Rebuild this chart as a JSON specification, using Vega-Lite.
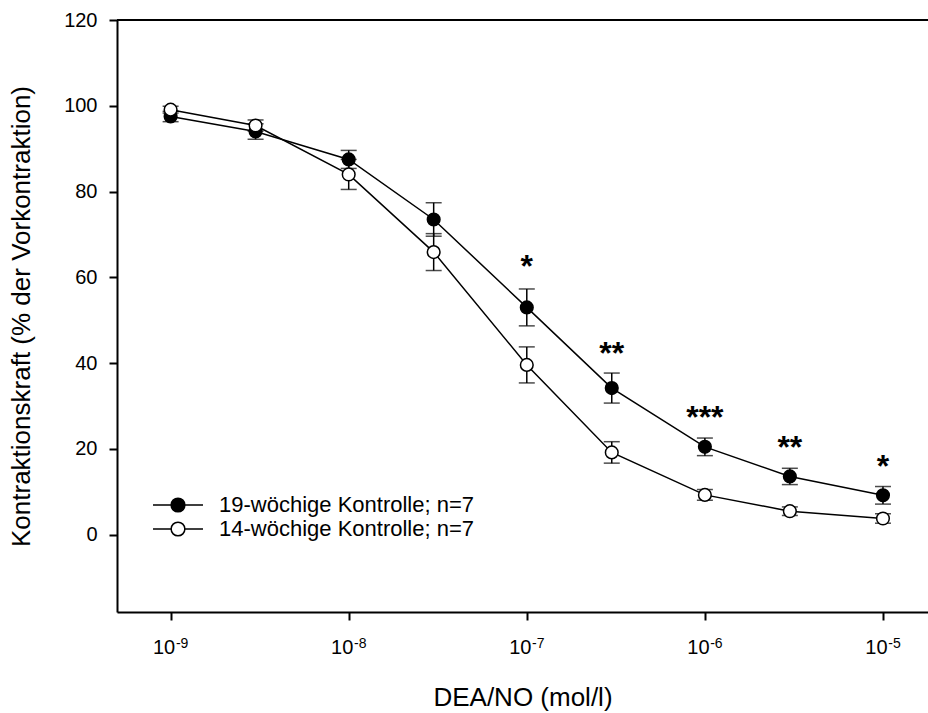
{
  "$schema": "https://vega.github.io/schema/vega-lite/v6.json",
  "width": 811,
  "height": 592,
  "autosize": {"type": "none"},
  "padding": {"left": 117, "top": 20, "right": 0, "bottom": 101},
  "background": "white",
  "config": {
    "view": {"stroke": null},
    "font": "Liberation Sans",
    "axis": {
      "domainColor": "black", "domainWidth": 2,
      "tickColor": "black", "tickWidth": 2, "tickSize": 8,
      "labelColor": "black", "labelFont": "Liberation Sans", "labelFontSize": 20,
      "titleFont": "Liberation Sans", "titleFontSize": 26, "titleFontWeight": "normal", "titleColor": "black",
      "grid": false
    }
  },
  "data": {
    "values": [
      {"conc": 1e-9, "group": "19-wöchige Kontrolle; n=7", "mean": 97.5, "lo": 96.3, "hi": 98.7},
      {"conc": 3e-9, "group": "19-wöchige Kontrolle; n=7", "mean": 94.0, "lo": 92.2, "hi": 95.8},
      {"conc": 1e-8, "group": "19-wöchige Kontrolle; n=7", "mean": 87.5, "lo": 85.4, "hi": 89.6},
      {"conc": 3e-8, "group": "19-wöchige Kontrolle; n=7", "mean": 73.5, "lo": 69.6, "hi": 77.4},
      {"conc": 1e-7, "group": "19-wöchige Kontrolle; n=7", "mean": 53.0, "lo": 48.7, "hi": 57.3},
      {"conc": 3e-7, "group": "19-wöchige Kontrolle; n=7", "mean": 34.2, "lo": 30.7, "hi": 37.7},
      {"conc": 1e-6, "group": "19-wöchige Kontrolle; n=7", "mean": 20.5, "lo": 18.45, "hi": 22.55},
      {"conc": 3e-6, "group": "19-wöchige Kontrolle; n=7", "mean": 13.6, "lo": 11.7, "hi": 15.5},
      {"conc": 1e-5, "group": "19-wöchige Kontrolle; n=7", "mean": 9.2, "lo": 7.15, "hi": 11.25},
      {"conc": 1e-9, "group": "14-wöchige Kontrolle; n=7", "mean": 99.1, "lo": 98.3, "hi": 99.9},
      {"conc": 3e-9, "group": "14-wöchige Kontrolle; n=7", "mean": 95.4, "lo": 94.1, "hi": 96.7},
      {"conc": 1e-8, "group": "14-wöchige Kontrolle; n=7", "mean": 84.0, "lo": 80.5, "hi": 87.5},
      {"conc": 3e-8, "group": "14-wöchige Kontrolle; n=7", "mean": 65.9, "lo": 61.6, "hi": 70.2},
      {"conc": 1e-7, "group": "14-wöchige Kontrolle; n=7", "mean": 39.6, "lo": 35.4, "hi": 43.8},
      {"conc": 3e-7, "group": "14-wöchige Kontrolle; n=7", "mean": 19.2, "lo": 16.7, "hi": 21.7},
      {"conc": 1e-6, "group": "14-wöchige Kontrolle; n=7", "mean": 9.3, "lo": 8.05, "hi": 10.55},
      {"conc": 3e-6, "group": "14-wöchige Kontrolle; n=7", "mean": 5.5, "lo": 4.5, "hi": 6.5},
      {"conc": 1e-5, "group": "14-wöchige Kontrolle; n=7", "mean": 3.8, "lo": 2.7, "hi": 4.9}
    ]
  },
  "resolve": {"axis": {"x": "independent"}},
  "layer": [
    {
      "mark": {"type": "rule", "color": "black", "strokeWidth": 1},
      "encoding": {
        "y": {"datum": 120, "type": "quantitative", "scale": {"domain": [-18, 120], "nice": false, "zero": false}, "title": "Kontraktionskraft (% der Vorkontraktion)"}
      }
    },
    {
      "mark": {"type": "line", "color": "black", "strokeWidth": 1.5},
      "encoding": {
        "x": {
          "field": "conc", "type": "quantitative",
          "scale": {"type": "log", "domain": [5e-10, 1.79e-5], "nice": false},
          "axis": {
            "orient": "bottom",
            "values": [1e-9, 1e-8, 1e-7, 1e-6, 1e-5],
            "labelExpr": "'10'",
            "labelFontSize": 20,
            "labelOffset": -7,
            "labelPadding": 17, "labelFlush": false, "labelOverlap": false,
            "titlePadding": 27
          },
          "title": "DEA/NO (mol/l)"
        },
        "y": {"field": "mean", "type": "quantitative", "scale": {"domain": [-18, 120], "nice": false, "zero": false},
              "axis": {"values": [0, 20, 40, 60, 80, 100, 120], "labelFontSize": 20, "labelPadding": 12, "titlePadding": 29},
              "title": "Kontraktionskraft (% der Vorkontraktion)"},
        "detail": {"field": "group"}
      }
    },
    {
      "mark": {"type": "errorbar", "ticks": {"size": 16, "strokeWidth": 1.5}, "thickness": 1.5, "color": "black"},
      "encoding": {
        "x": {
          "field": "conc", "type": "quantitative",
          "scale": {"type": "log", "domain": [5e-10, 1.79e-5], "nice": false},
          "axis": {
            "orient": "bottom",
            "values": [1e-9, 1e-8, 1e-7, 1e-6, 1e-5],
            "labelExpr": "['-9','-8','-7','-6','-5'][round(log(datum.value)/LN10)+9]",
            "labelFontSize": 14,
            "labelOffset": 11,
            "labelPadding": 16, "labelFlush": false, "labelOverlap": false,
            "domain": false, "tickOpacity": 0,
            "title": null
          }
        },
        "y": {"field": "lo", "type": "quantitative", "scale": {"domain": [-18, 120], "nice": false, "zero": false}, "title": "Kontraktionskraft (% der Vorkontraktion)"},
        "y2": {"field": "hi"},
        "detail": {"field": "group"}
      }
    },
    {
      "mark": {"type": "circle", "size": 160, "stroke": "black", "strokeWidth": 1.5, "opacity": 1},
      "encoding": {
        "x": {"field": "conc", "type": "quantitative", "scale": {"type": "log", "domain": [5e-10, 1.79e-5], "nice": false}, "axis": null},
        "y": {"field": "mean", "type": "quantitative", "scale": {"domain": [-18, 120], "nice": false, "zero": false}, "title": "Kontraktionskraft (% der Vorkontraktion)"},
        "fill": {
          "field": "group", "type": "nominal",
          "scale": {"domain": ["19-wöchige Kontrolle; n=7", "14-wöchige Kontrolle; n=7"], "range": ["black", "white"]},
          "legend": {
            "orient": "none", "legendX": 50, "legendY": 474, "title": null, "padding": 0,
            "symbolType": "M-3.57,0L-0.98,0M0.98,0L3.57,0M0.98,0A0.98,0.98,0,1,1,-0.98,0A0.98,0.98,0,1,1,0.98,0",
            "symbolSize": 196, "symbolStrokeColor": "black", "symbolStrokeWidth": 1.5,
            "labelFont": "Liberation Sans", "labelFontSize": 22, "labelColor": "black", "labelOffset": 30,
            "labelLimit": 500,
            "rowPadding": 2
          }
        }
      }
    },
    {
      "data": {
        "values": [
          {"conc": 1e-7, "sigY": 63.5, "sig": "*"},
          {"conc": 3e-7, "sigY": 43.4, "sig": "**"},
          {"conc": 1e-6, "sigY": 28.5, "sig": "***"},
          {"conc": 3e-6, "sigY": 21.5, "sig": "**"},
          {"conc": 1e-5, "sigY": 17.0, "sig": "*"}
        ]
      },
      "mark": {"type": "text", "font": "Liberation Sans", "fontWeight": "bold", "fontSize": 32, "baseline": "alphabetic", "align": "center", "dy": 15, "color": "black"},
      "encoding": {
        "x": {"field": "conc", "type": "quantitative", "scale": {"type": "log", "domain": [5e-10, 1.79e-5], "nice": false}, "axis": null},
        "y": {"field": "sigY", "type": "quantitative", "scale": {"domain": [-18, 120], "nice": false, "zero": false}, "title": "Kontraktionskraft (% der Vorkontraktion)"},
        "text": {"field": "sig"}
      }
    }
  ]
}
